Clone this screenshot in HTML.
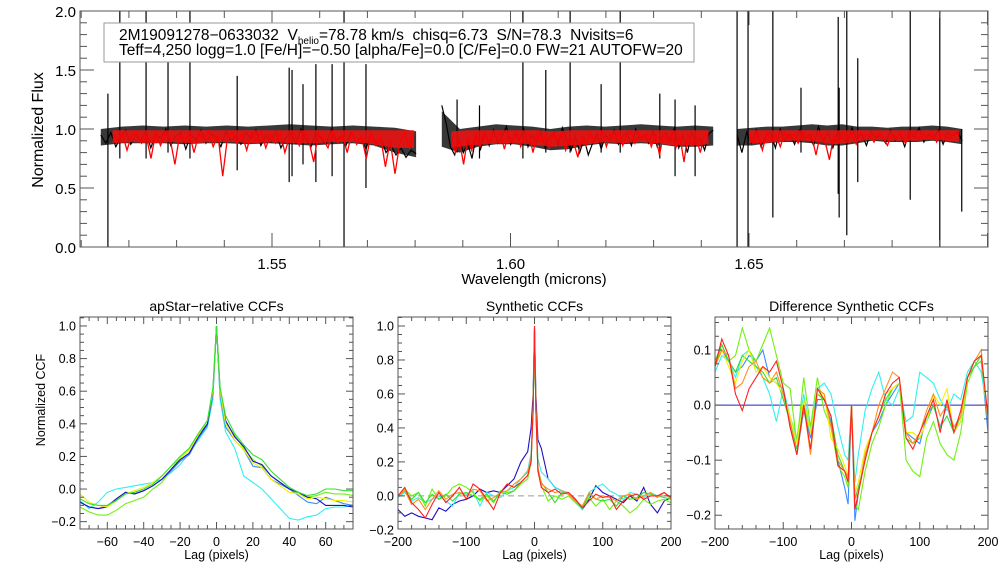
<!DOCTYPE html>
<html><head><meta charset="utf-8">
<style>
html,body{margin:0;padding:0;background:#fff;}
svg{display:block;font-family:"Liberation Sans",sans-serif;}
</style></head>
<body>
<svg id="chart" width="1008" height="576" viewBox="0 0 1008 576" xmlns="http://www.w3.org/2000/svg"></svg>
<script>
// ---------- Top spectrum data ----------
const segRanges = [[1.5141,1.5802],[1.5856,1.6425],[1.6475,1.6947]];
const redRanges = [[1.5166,1.5798],[1.5876,1.6415],[1.6500,1.6940]];
const obsFlux1 = [0.95,0.88,0.97,0.85,0.93,0.99,0.87,0.95,0.90,0.98,0.84,0.96,0.92,1.00,0.86,0.94,0.97,0.83,0.95,0.91,0.99,0.88,0.96,0.93,0.85,0.98,0.90,0.94,0.87,0.97,0.92,0.99,0.86,0.95,0.89,0.98,0.84,0.93,0.96,0.88,1.00,0.91,0.85,0.97,0.92,0.87,0.99,0.90,0.94,0.86,0.97,0.89,0.93,0.83,0.96,0.88,0.92,0.80,0.86,0.78,0.84,0.76,0.82,0.79];
const obsFlux2 = [1.20,1.05,0.85,0.78,0.92,0.80,0.88,0.75,0.95,0.83,0.97,0.86,0.99,0.88,0.94,1.02,0.87,0.96,0.91,1.00,0.85,0.95,0.89,0.98,0.84,0.93,0.97,0.86,1.01,0.90,0.82,0.94,0.80,0.92,0.78,0.88,0.96,0.83,0.95,0.90,0.99,0.87,0.94,0.97,0.86,1.00,0.91,0.95,0.88,0.98,0.85,0.93,0.97,0.89,1.01,0.84,0.95,0.80,0.97,0.88,0.92,0.82,0.96,0.99];
const obsFlux3 = [0.95,0.80,0.97,0.88,0.99,0.85,0.94,0.97,0.84,1.00,0.90,0.96,0.87,0.99,0.92,0.95,0.86,1.02,0.90,0.97,0.84,0.99,0.93,0.88,1.01,0.91,0.96,0.86,0.98,0.92,0.95,0.88,0.99,0.90,0.96,0.85,0.98,0.93,1.01,0.89,0.96,0.92,0.99,0.87,0.97,0.94,0.98,0.90];
const envUpper1 = [1.00,1.02,1.03,1.02,1.03,1.02,1.03,1.02,1.03,1.04,1.03,1.02,1.03,1.02,1.01,0.98];
const envLower1 = [0.86,0.88,0.88,0.88,0.87,0.88,0.88,0.87,0.88,0.87,0.86,0.87,0.88,0.86,0.80,0.76];
const envUpper2 = [1.15,1.00,1.02,1.04,1.03,1.02,1.00,1.02,1.03,1.02,1.03,1.04,1.03,1.02,1.03,1.02];
const envLower2 = [0.85,0.80,0.85,0.87,0.87,0.85,0.82,0.83,0.86,0.88,0.87,0.88,0.87,0.85,0.85,0.86];
const envUpper3 = [1.00,1.01,1.02,1.02,1.03,1.04,1.03,1.04,1.02,1.02,1.01,1.02,1.02,1.03,1.02,1.00];
const envLower3 = [0.86,0.86,0.88,0.89,0.89,0.88,0.86,0.86,0.88,0.90,0.89,0.89,0.89,0.90,0.89,0.87];
const modUpper1 = [0.99,0.99,0.99,0.99,0.99,0.99,0.99,0.99,0.99,0.99,0.99,0.99,0.99,0.99,0.99,0.99];
const modLower1 = [0.88,0.89,0.88,0.89,0.88,0.89,0.89,0.88,0.89,0.88,0.88,0.89,0.89,0.87,0.84,0.84];
const modUpper2 = [0.98,0.99,0.99,0.99,0.99,0.99,0.98,0.99,0.99,0.99,0.99,0.99,0.99,0.99,0.99,0.99];
const modLower2 = [0.84,0.86,0.87,0.88,0.88,0.86,0.85,0.86,0.87,0.89,0.88,0.89,0.88,0.86,0.86,0.87];
const modUpper3 = [0.99,0.99,0.99,0.99,0.99,0.99,0.99,0.99,0.99,0.99,0.99,0.99,0.99,0.99,0.99,0.99];
const modLower3 = [0.88,0.88,0.89,0.90,0.90,0.89,0.87,0.88,0.90,0.91,0.90,0.90,0.90,0.91,0.90,0.89];
const modFlux1 = [0.97,0.90,0.96,0.82,0.95,0.98,0.88,0.94,0.75,0.97,0.86,0.96,0.92,0.70,0.95,0.89,0.97,0.80,0.96,0.91,0.98,0.85,0.95,0.60,0.93,0.97,0.88,0.96,0.82,0.97,0.90,0.98,0.84,0.95,0.88,0.97,0.80,0.94,0.96,0.86,0.98,0.90,0.72,0.97,0.91,0.84,0.98,0.88,0.95,0.80,0.97,0.87,0.94,0.75,0.96,0.86,0.93,0.68,0.90,0.62,0.88,0.97,0.84,0.96];
const modFlux2 = [0.95,0.80,0.90,0.70,0.93,0.82,0.96,0.85,0.97,0.88,0.95,0.92,0.97,0.83,0.96,0.90,0.98,0.85,0.94,0.96,0.80,0.97,0.89,0.95,0.84,0.96,0.90,0.97,0.82,0.93,0.88,0.76,0.95,0.86,0.97,0.89,0.94,0.98,0.85,0.96,0.91,0.97,0.86,0.95,0.98,0.88,0.96,0.92,0.97,0.85,0.95,0.78,0.96,0.89,0.97,0.84,0.94,0.72,0.96,0.86,0.93,0.80,0.95,0.97];
const modFlux3 = [0.97,0.88,0.96,0.82,0.97,0.90,0.95,0.85,0.97,0.92,0.96,0.88,0.97,0.93,0.95,0.78,0.96,0.90,0.74,0.95,0.88,0.97,0.92,0.96,0.87,0.97,0.94,0.96,0.89,0.97,0.93,0.86,0.96,0.92,0.97,0.88,0.95,0.97,0.91,0.96,0.93,0.97,0.89,0.96,0.94,0.92,0.97,0.95];
const spikeWave = [1.5156,1.5181,1.5236,1.5282,1.5328,1.5427,1.5536,1.5542,1.5565,1.5592,1.5626,1.5651,1.5697,1.5888,1.5935,1.6026,1.6074,1.6125,1.6190,1.6230,1.6313,1.6345,1.6387,1.6475,1.6498,1.6550,1.6609,1.6687,1.6689,1.6705,1.6728,1.6838,1.6900,1.6946];
const spikeTop  = [1.30,2.0,2.0,1.60,2.0,1.45,1.52,1.50,1.38,1.55,1.55,2.0,1.55,1.25,1.20,2.0,1.50,2.0,1.38,2.0,1.30,1.25,1.20,2.0,2.0,2.0,1.35,1.95,1.35,2.0,1.60,2.0,2.0,1.00];
const spikeBot  = [0.0,0.75,0.75,0.80,0.75,0.65,0.55,0.60,0.70,0.55,0.60,0.0,0.50,0.80,0.75,0.75,0.80,0.80,0.80,0.80,0.75,0.60,0.60,0.0,0.0,0.25,0.80,0.45,0.25,0.10,0.55,0.40,0.0,0.30];
const topXTicks = [1.55,1.60,1.65];
const topYTicks = [0.0,0.5,1.0,1.5,2.0];

// ---------- apStar-relative CCFs ----------
const lagsA = [-75,-70,-65,-60,-55,-50,-45,-40,-35,-30,-25,-20,-15,-10,-5,-2,0,2,5,10,15,20,25,30,35,40,45,50,55,60,65,70,75];
const ccfA_blue  = [-0.08,-0.11,-0.12,-0.11,-0.06,-0.02,-0.03,-0.01,0.02,0.06,0.12,0.18,0.22,0.32,0.40,0.60,1.0,0.60,0.42,0.32,0.26,0.17,0.15,0.08,0.04,0.00,-0.02,-0.05,-0.06,-0.10,-0.10,-0.10,-0.11];
const ccfA_lblue = [-0.08,-0.11,-0.12,-0.10,-0.06,-0.02,-0.03,-0.01,0.02,0.06,0.11,0.17,0.21,0.31,0.39,0.58,1.0,0.58,0.38,0.30,0.24,0.14,0.13,0.06,0.03,0.00,-0.04,-0.08,-0.09,-0.05,-0.07,-0.09,-0.10];
const ccfA_cyan  = [-0.07,-0.12,-0.08,-0.02,0.00,0.01,0.02,0.03,0.04,0.06,0.10,0.15,0.22,0.30,0.38,0.55,1.0,0.55,0.35,0.25,0.08,0.04,0.00,-0.06,-0.12,-0.18,-0.19,-0.17,-0.16,-0.12,-0.11,-0.11,-0.10];
const ccfA_green = [-0.06,-0.09,-0.10,-0.10,-0.07,-0.03,-0.02,0.00,0.03,0.08,0.14,0.20,0.25,0.34,0.42,0.62,1.0,0.62,0.45,0.34,0.27,0.21,0.18,0.11,0.06,0.01,-0.02,-0.04,-0.03,0.00,0.00,-0.01,-0.01];
const ccfA_lime  = [-0.11,-0.14,-0.16,-0.16,-0.13,-0.09,-0.07,-0.05,0.00,0.04,0.12,0.19,0.24,0.33,0.40,0.60,1.0,0.60,0.41,0.33,0.25,0.18,0.14,0.08,0.04,0.00,-0.03,-0.05,-0.04,-0.02,-0.03,-0.03,-0.04];
const ccfA_yellow= [-0.03,-0.08,-0.10,-0.11,-0.07,-0.03,-0.01,0.01,0.04,0.08,0.14,0.19,0.24,0.33,0.42,0.60,1.0,0.60,0.40,0.30,0.24,0.16,0.13,0.06,0.02,-0.02,-0.03,-0.06,-0.05,-0.06,-0.07,-0.07,-0.08];
const ticksA_x = [-60,-40,-20,0,20,40,60];
const ticksA_y = [-0.2,0.0,0.2,0.4,0.6,0.8,1.0];

// ---------- Synthetic CCFs ----------
const lagsB = [-200,-190,-180,-170,-160,-150,-140,-130,-120,-110,-100,-90,-80,-70,-60,-50,-40,-30,-20,-10,-5,-2,0,2,5,10,20,30,40,50,60,70,80,90,100,110,120,130,140,150,160,170,180,190,200];
const ccfB_blue  = [-0.08,-0.12,-0.10,-0.12,-0.13,-0.14,-0.07,-0.09,-0.05,-0.03,-0.02,0.00,0.04,0.02,0.03,0.02,0.06,0.10,0.20,0.26,0.40,0.60,0.98,0.60,0.33,0.28,0.10,0.05,0.03,0.01,-0.02,-0.08,-0.02,0.06,0.02,0.00,-0.02,-0.04,0.00,-0.03,0.05,-0.05,-0.10,-0.03,-0.01];
const ccfB_cyan  = [-0.01,0.02,-0.03,-0.01,-0.04,-0.02,0.00,-0.03,-0.06,0.02,0.01,0.03,-0.06,0.02,0.00,-0.01,0.03,0.05,0.10,0.15,0.25,0.55,0.99,0.55,0.22,0.14,0.10,0.05,0.03,0.02,-0.04,-0.08,0.02,0.05,0.07,0.03,0.01,-0.02,0.02,0.01,-0.01,0.02,0.00,0.02,-0.02];
const ccfB_green = [0.00,0.03,-0.02,0.02,-0.04,0.01,-0.02,0.01,-0.03,0.01,0.02,0.00,-0.02,0.01,-0.03,0.02,0.01,0.03,0.08,0.12,0.20,0.50,0.99,0.50,0.16,0.08,0.02,-0.04,0.02,0.01,-0.03,-0.07,0.01,-0.02,-0.03,-0.02,-0.06,0.00,-0.02,-0.01,0.02,0.01,0.00,-0.01,-0.02];
const ccfB_lime  = [0.00,0.04,0.00,0.02,-0.06,0.04,-0.02,0.00,0.05,0.07,0.05,0.02,-0.03,0.00,-0.04,0.03,0.02,0.03,0.07,0.10,0.20,0.50,0.99,0.50,0.14,0.06,-0.03,0.00,-0.02,0.00,-0.04,-0.07,-0.01,-0.06,-0.02,-0.08,-0.03,-0.06,-0.10,-0.07,-0.02,-0.05,-0.03,-0.02,-0.04];
const ccfB_orange= [0.00,0.03,-0.05,-0.02,-0.08,-0.02,0.03,-0.02,0.01,0.02,0.00,0.04,0.03,-0.03,-0.01,0.02,0.03,0.07,0.10,0.14,0.22,0.52,1.0,0.52,0.17,0.07,0.04,0.02,0.03,0.01,-0.03,-0.06,0.02,-0.02,0.00,-0.01,-0.03,0.00,0.01,-0.02,0.00,0.02,-0.01,0.02,-0.02];
const ccfB_red   = [0.00,0.05,-0.04,-0.08,-0.13,-0.05,0.02,-0.04,0.00,0.05,-0.02,0.07,0.04,-0.02,-0.08,0.02,0.07,0.05,0.08,0.12,0.20,0.50,1.0,0.50,0.15,0.05,0.02,0.04,0.01,0.02,-0.02,-0.07,-0.03,0.01,-0.01,0.00,-0.08,-0.03,0.00,0.01,-0.02,0.00,0.00,0.02,-0.01];
const ticksB_x = [-200,-100,0,100,200];
const ticksB_y = [-0.2,0.0,0.2,0.4,0.6,0.8,1.0];

// ---------- Difference Synthetic CCFs ----------
const lagsC = [-200,-190,-180,-170,-160,-150,-140,-130,-120,-110,-100,-90,-80,-70,-60,-50,-40,-30,-20,-10,-5,0,5,10,20,30,40,50,60,70,80,90,100,110,120,130,140,150,160,170,180,190,200];
const diffC_lblue = [0.07,0.10,0.08,0.06,0.07,0.09,0.08,0.10,0.05,0.04,0.03,-0.04,-0.09,-0.01,-0.06,0.01,0.01,-0.03,-0.10,-0.15,-0.18,0.00,-0.21,-0.16,-0.09,-0.05,-0.03,0.00,0.02,0.04,-0.05,-0.06,-0.07,-0.02,0.00,-0.04,0.00,-0.05,-0.03,0.05,0.07,0.08,-0.05];
const diffC_cyan  = [0.06,0.09,0.08,0.05,0.09,0.10,0.07,0.05,0.02,-0.03,0.03,-0.02,-0.06,0.02,-0.05,0.03,0.04,0.02,-0.04,-0.09,-0.10,0.00,-0.14,-0.09,-0.01,0.03,0.06,0.01,0.00,0.03,-0.03,-0.02,0.06,0.05,0.04,0.01,-0.01,0.02,0.01,0.06,0.08,0.06,-0.02];
const diffC_lime  = [0.07,0.11,0.08,0.09,0.14,0.10,0.08,0.11,0.14,0.09,0.04,0.03,-0.07,0.05,-0.04,0.05,-0.01,-0.04,-0.11,-0.13,-0.15,0.00,-0.18,-0.19,-0.12,-0.07,-0.04,0.00,0.03,0.04,-0.10,-0.12,-0.13,-0.06,-0.03,-0.07,-0.09,-0.10,-0.05,0.04,0.07,0.08,-0.02];
const diffC_green = [0.08,0.11,0.08,0.06,0.09,0.08,0.07,0.06,0.04,0.05,0.01,-0.03,-0.08,0.00,-0.05,0.02,0.01,-0.02,-0.09,-0.12,-0.14,0.00,-0.17,-0.15,-0.10,-0.05,-0.02,0.01,0.03,0.04,-0.06,-0.07,-0.06,-0.03,0.00,-0.04,-0.02,-0.05,-0.02,0.05,0.07,0.09,-0.03];
const diffC_yellow= [0.07,0.10,0.07,0.04,0.08,0.10,0.06,0.07,0.05,0.04,0.02,-0.02,-0.07,0.01,-0.05,0.02,0.02,-0.06,-0.08,-0.11,-0.13,0.00,-0.16,-0.14,-0.08,-0.05,-0.02,0.02,0.03,0.04,-0.05,-0.05,-0.06,-0.03,0.02,0.00,0.03,-0.05,-0.03,0.05,0.08,0.09,-0.03];
const diffC_orange= [0.07,0.10,0.09,0.03,0.04,0.07,0.08,0.05,0.04,0.06,0.02,-0.03,-0.09,0.00,-0.09,0.03,0.02,-0.04,-0.10,-0.12,-0.13,0.00,-0.17,-0.16,-0.09,-0.05,0.00,0.03,0.06,0.05,-0.05,-0.07,-0.05,-0.01,0.02,-0.02,0.00,-0.04,-0.02,0.05,0.08,0.10,-0.03];
const diffC_red   = [0.07,0.12,0.09,0.02,-0.01,0.03,0.05,0.07,0.06,0.08,0.03,-0.04,-0.09,0.00,-0.08,0.03,0.01,-0.02,-0.11,-0.12,-0.14,0.00,-0.19,-0.16,-0.10,-0.05,-0.02,0.02,0.04,0.05,-0.06,-0.08,-0.05,-0.02,0.01,-0.05,0.01,-0.05,-0.01,0.05,0.08,0.09,-0.02];
const ticksC_x = [-200,-100,0,100,200];
const ticksC_y = [-0.2,-0.1,0.0,0.1];

const NS='http://www.w3.org/2000/svg';
const svg=document.getElementById('chart');
function el(tag,attrs,parent,text){const e=document.createElementNS(NS,tag);for(const k in attrs)e.setAttribute(k,attrs[k]);if(text!==undefined)e.textContent=text;(parent||svg).appendChild(e);return e;}
function scale(d0,d1,r0,r1){return v=>r0+(v-d0)*(r1-r0)/(d1-d0);}
function fmt(v,dec){return (v<0?'\u2212':'')+Math.abs(v).toFixed(dec);}

function frame(g,L,T,R,B,xs,ys,xMaj,xMin,yMaj,yMin,x0,x1,y0,y1,tl,tlMin){
  el('rect',{x:L,y:T,width:R-L,height:B-T,fill:'none',stroke:'#555','stroke-width':1},g);
  for(let v=Math.ceil(x0/xMin)*xMin; v<=x1+1e-9; v+=xMin){
    const maj=Math.abs(v/xMaj-Math.round(v/xMaj))<1e-6;const x=xs(v);const len=maj?tl:tlMin;
    el('line',{x1:x,x2:x,y1:B,y2:B-len,stroke:'#555'},g);el('line',{x1:x,x2:x,y1:T,y2:T+len,stroke:'#555'},g);
  }
  for(let v=Math.ceil(y0/yMin)*yMin; v<=y1+1e-9; v+=yMin){
    const maj=Math.abs(v/yMaj-Math.round(v/yMaj))<1e-6;const y=ys(v);const len=maj?tl:tlMin;
    el('line',{x1:L,x2:L+len,y1:y,y2:y,stroke:'#555'},g);el('line',{x1:R,x2:R-len,y1:y,y2:y,stroke:'#555'},g);
  }
}

// ===== Top panel =====
const gTop=el('g',{});


const tx=scale(1.55,1.65,272,749), ty=scale(0,2,247,11);
const cp=el('clipPath',{id:'clipTop'});el('rect',{x:80,y:11,width:908,height:236},cp);
const gSpec=el('g',{'clip-path':'url(#clipTop)'},gTop);
function band(up,lo,range,fill,op,name){
  const [a,b]=range;
  const pts=up.map((f,j)=>tx(a+(b-a)*j/(up.length-1)).toFixed(1)+','+ty(f).toFixed(1));
  const ptsL=lo.map((f,j)=>tx(a+(b-a)*j/(lo.length-1)).toFixed(1)+','+ty(f).toFixed(1)).reverse();
  const p=el('polygon',{points:pts.concat(ptsL).join(' '),fill:fill,'fill-opacity':op,stroke:'none'},gSpec);
  
  
}
const envU=[envUpper1,envUpper2,envUpper3], envL=[envLower1,envLower2,envLower3];
const mU=[modUpper1,modUpper2,modUpper3], mL=[modLower1,modLower2,modLower3];
envU.forEach((up,i)=>band(up,envL[i],segRanges[i],'#222',0.9,'observed-noise-band'));
const obsSegs=[obsFlux1,obsFlux2,obsFlux3], modSegs=[modFlux1,modFlux2,modFlux3];
obsSegs.forEach((arr,i)=>{const [a,b]=segRanges[i];
  const p=el('polyline',{points:arr.map((f,j)=>tx(a+(b-a)*j/(arr.length-1)).toFixed(1)+','+ty(f).toFixed(1)).join(' '),fill:'none',stroke:'#000','stroke-width':1.2},gSpec);
  
  
});
spikeWave.forEach((w,i)=>{const l=el('line',{x1:tx(w),x2:tx(w),y1:ty(spikeBot[i]),y2:ty(spikeTop[i]),stroke:'#000','stroke-width':1.2},gSpec);
  
  });
mU.forEach((up,i)=>band(up,mL[i],redRanges[i],'#f41010',0.85,'model-band'));
modSegs.forEach((arr,i)=>{const [a,b]=redRanges[i];
  const p=el('polyline',{points:arr.map((f,j)=>tx(a+(b-a)*j/(arr.length-1)).toFixed(1)+','+ty(f).toFixed(1)).join(' '),fill:'none',stroke:'#f00','stroke-width':1.3},gSpec);
  
  
});
frame(gTop,80,11,988,247,tx,ty,0.05,0.01,0.5,0.1,1.509,1.70,0,2,14,7);
topXTicks.forEach(v=>{const t=el('text',{x:tx(v),y:269,'font-size':15,'text-anchor':'middle'},gTop,v.toFixed(2));
  
  });
topYTicks.forEach(v=>{const t=el('text',{x:76,y:ty(v)+6,'font-size':15,'text-anchor':'end'},gTop,v.toFixed(1));
  
  });
const xt=el('text',{x:534,y:284,'font-size':15,'text-anchor':'middle'},gTop,'Wavelength (microns)');


const yt=el('text',{x:43,y:130,'font-size':16,'text-anchor':'middle',transform:'rotate(-90 43 130)'},gTop,'Normalized Flux');


const box=el('g',{},gTop);


el('rect',{x:104,y:23,width:590,height:39,fill:'#fff',stroke:'#999'},box);
const t1=el('text',{x:119,y:40,'font-size':15.5},box);
el('tspan',{},t1,'2M19091278\u22120633032\u00a0\u00a0V');
el('tspan',{'font-size':10,dy:4},t1,'helio');
el('tspan',{dy:-4},t1,'=78.78 km/s\u00a0\u00a0chisq=6.73\u00a0\u00a0S/N=78.3\u00a0\u00a0Nvisits=6');
el('text',{x:119,y:55,'font-size':15.5},box,'Teff=4,250 logg=1.0 [Fe/H]=\u22120.50 [alpha/Fe]=0.0 [C/Fe]=0.0 FW=21 AUTOFW=20');

// ===== Bottom panels =====
function ccfPanel(name,title,L,R,x0,x1,y0,y1,xMaj,xMin,yMaj,yMin,xTicks,yTicks,yDec,lags,series,colors,extra){
  const g=el('g',{});
  
  
  const T=317,B=529;const xs=scale(x0,x1,L,R), ys=scale(y0,y1,B,T);
  const id='clip'+name;const c=el('clipPath',{id:id});el('rect',{x:L,y:T,width:R-L,height:B-T},c);
  const gd=el('g',{'clip-path':'url(#'+id+')'},g);
  if(extra)extra(gd,xs,ys,L,R);
  series.forEach((arr,i)=>{const p=el('polyline',{points:arr.map((v,j)=>xs(lags[j]).toFixed(1)+','+ys(v).toFixed(1)).join(' '),fill:'none',stroke:colors[i],'stroke-width':1.1},gd);
    
    });
  frame(g,L,T,R,B,xs,ys,xMaj,xMin,yMaj,yMin,x0,x1,y0,y1,7,4);
  xTicks.forEach(v=>{const t=el('text',{x:xs(v),y:546,'font-size':12.5,'text-anchor':'middle'},g,fmt(v,0));
    
    });
  yTicks.forEach(v=>{const t=el('text',{x:L-4,y:ys(v)+4.5,'font-size':12.5,'text-anchor':'end'},g,fmt(v,yDec));
    
    });
  const tt=el('text',{x:(L+R)/2,y:311,'font-size':14,'text-anchor':'middle'},g,title);
  
  
  const xl=el('text',{x:(L+R)/2,y:559,'font-size':12.5,'text-anchor':'middle'},g,'Lag (pixels)');
  
  
  return g;
}
ccfPanel('apstar-ccf-panel','apStar\u2212relative CCFs',80,353,-75,75,-0.245,1.055,20,5,0.2,0.05,ticksA_x,ticksA_y,1,lagsA,
  [ccfA_cyan,ccfA_lime,ccfA_lblue,ccfA_blue,ccfA_yellow,ccfA_green],['#30f0f0','#70f010','#3a8cff','#2010c0','#f0f000','#30e030']);
const ylab=el('text',{x:45,y:400,'font-size':12.5,'text-anchor':'middle',transform:'rotate(-90 45 400)'},svg,'Normalized CCF');


ccfPanel('synthetic-ccf-panel','Synthetic CCFs',398,671,-200,200,-0.195,1.053,100,20,0.2,0.05,ticksB_x,ticksB_y,1,lagsB,
  [ccfB_blue,ccfB_cyan,ccfB_lime,ccfB_green,ccfB_orange,ccfB_red],['#2010c0','#30f0f0','#70f010','#30e030','#ff9020','#ff2020'],
  (gd,xs,ys,L,R)=>{el('line',{x1:L,x2:R,y1:ys(0),y2:ys(0),stroke:'#999','stroke-dasharray':'6,4'},gd);});
ccfPanel('difference-ccf-panel','Difference Synthetic CCFs',715,988,-200,200,-0.225,0.16,100,20,0.1,0.025,ticksC_x,ticksC_y,1,lagsC,
  [diffC_lblue,diffC_cyan,diffC_lime,diffC_green,diffC_yellow,diffC_orange,diffC_red],['#3a8cff','#30f0f0','#70f010','#30e030','#f0f000','#ff9020','#ff2020'],
  (gd,xs,ys,L,R)=>{el('line',{x1:L,x2:R,y1:ys(0),y2:ys(0),stroke:'#2020c0'},gd);});
</script>
</body></html>
